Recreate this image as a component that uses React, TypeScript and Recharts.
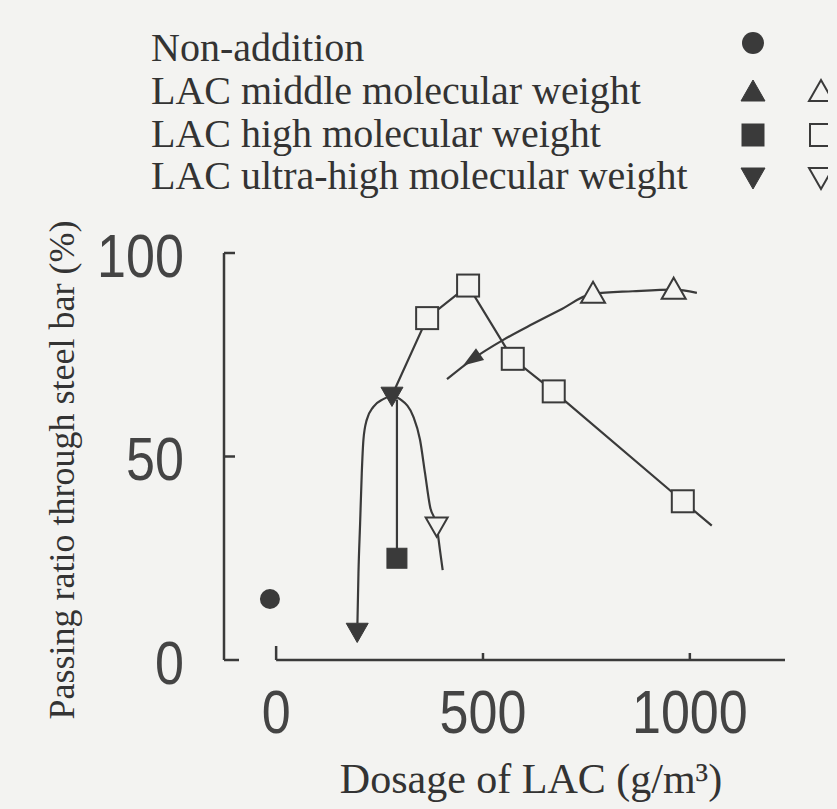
import React from 'react';
import { ComposedChart, Line, Scatter, XAxis, YAxis, ReferenceLine, Label } from 'recharts';

// measured points, x = dosage of LAC (g/m3), y = passing ratio (%)
const nonAddition = [{ x: -15, y: 15 }];
const middleFilled = [{ x: 476, y: 74 }];
const middleOpen = [
  { x: 766, y: 90 },
  { x: 961, y: 91 },
];
const highFilled = [{ x: 292, y: 25 }];
const highOpen = [
  { x: 365, y: 84 },
  { x: 464, y: 92 },
  { x: 572, y: 74 },
  { x: 671, y: 66 },
  { x: 983, y: 39 },
];
const ultraFilled = [{ x: 280, y: 65 }];
const ultraArrow = [{ x: 196, y: 7 }];
const ultraOpen = [{ x: 388, y: 33 }];

// hand drawn trend curves
const middleCurve = [
  { x: 413, y: 69 },
  { x: 476, y: 74 },
  { x: 548, y: 78.6 },
  { x: 621, y: 82.6 },
  { x: 686, y: 86 },
  { x: 766, y: 90 },
  { x: 862, y: 90.6 },
  { x: 961, y: 91 },
  { x: 1017, y: 90.2 },
];
const highCurve = [
  { x: 280, y: 65 },
  { x: 365, y: 84 },
  { x: 464, y: 92 },
  { x: 572, y: 74 },
  { x: 671, y: 66 },
  { x: 983, y: 39 },
  { x: 1053, y: 33 },
];
const ultraLeftArc = [
  { x: 280, y: 65 },
  { x: 259, y: 64.1 },
  { x: 235, y: 62.2 },
  { x: 219, y: 59 },
  { x: 211, y: 54.1 },
  { x: 207, y: 45.9 },
  { x: 203, y: 33.6 },
  { x: 199, y: 21.3 },
  { x: 196.5, y: 9 },
];
const ultraStem = [
  { x: 292, y: 64 },
  { x: 292, y: 27 },
];
const ultraRightArc = [
  { x: 280, y: 65 },
  { x: 299.5, y: 64.1 },
  { x: 331.6, y: 59.8 },
  { x: 347.8, y: 54.1 },
  { x: 359.9, y: 45.9 },
  { x: 372, y: 37.7 },
  { x: 388, y: 33 },
  { x: 396, y: 27 },
  { x: 402.6, y: 22.1 },
];

const xTicks = [0, 500, 1000];
const yTicks = [0, 50, 100];

const legendRows = [
  { label: 'Non-addition', filled: 'circle', open: '' },
  { label: 'LAC middle molecular weight', filled: 'up', open: 'upOpen' },
  { label: 'LAC high molecular weight', filled: 'square', open: 'squareOpen' },
  { label: 'LAC ultra-high molecular weight', filled: 'down', open: 'downOpen' },
];

const INK = '#3a3a3a';
const TEXT = '#333';
const BG = '#f3f3f1';
const SERIF = '"Liberation Serif", "Times New Roman", serif';
const SANS = '"Liberation Sans", Arial, sans-serif';

const W = 820;
const H = 800;

// direction of the arrow-like filled triangle on the middle curve (screen degrees)
const ARROW_ANGLE = 146;

function Marker({ cx, cy, kind, s = 12 }: { cx: number; cy: number; kind: string; s?: number }) {
  const open = kind.endsWith('Open');
  const fill = open ? BG : INK;
  const sw = open ? 2 : 1;
  const base = kind.replace('Open', '');
  if (base === 'circle') return <circle cx={cx} cy={cy} r={s - 1} fill={INK} />;
  if (base === 'square')
    return (
      <rect x={cx - s + 1} y={cy - s + 1} width={2 * s - 2} height={2 * s - 2} fill={fill} stroke={INK} strokeWidth={sw} />
    );
  if (base === 'up')
    return (
      <polygon
        points={`${cx},${cy - s} ${cx + s},${cy + s * 0.75} ${cx - s},${cy + s * 0.75}`}
        fill={fill}
        stroke={INK}
        strokeWidth={sw}
      />
    );
  if (base === 'down')
    return (
      <polygon
        points={`${cx - s},${cy - s * 0.75} ${cx + s},${cy - s * 0.75} ${cx},${cy + s}`}
        fill={fill}
        stroke={INK}
        strokeWidth={sw}
      />
    );
  if (base === 'arrow') {
    return (
      <polygon
        points={`${s},0 ${-s * 0.7},${-s * 0.6} ${-s * 0.7},${s * 0.6}`}
        transform={`translate(${cx},${cy}) rotate(${ARROW_ANGLE})`}
        fill={INK}
      />
    );
  }
  return <g />;
}

const shapeOf = (kind: string, s?: number) => (p: any) => <Marker cx={p.cx} cy={p.cy} kind={kind} s={s} />;

const YTick = (props: any) => {
  const { x, y, payload } = props;
  const len = payload.value === 0 ? 15 : 11;
  return (
    <g>
      <line x1={x} x2={x + len} y1={y} y2={y} stroke={INK} strokeWidth={2.5} />
      <text
        transform={`translate(${x - 40},${y + 2}) scale(0.84,1)`}
        textAnchor="end"
        dominantBaseline="central"
        fontFamily={SANS}
        fontSize={62}
        fill="#444"
      >
        {payload.value}
      </text>
    </g>
  );
};

const XTick = (props: any) => {
  const { x, y, payload } = props;
  const len = payload.value === 0 ? 14 : 7;
  return (
    <g>
      <line x1={x} x2={x} y1={y} y2={y - len} stroke={INK} strokeWidth={2.5} />
      <text
        transform={`translate(${x},${y + 51}) scale(0.84,1)`}
        textAnchor="middle"
        dominantBaseline="central"
        fontFamily={SANS}
        fontSize={62}
        fill="#444"
      >
        {payload.value}
      </text>
    </g>
  );
};

const LegendBlock = () => (
  <svg width={W} height={200} style={{ position: 'absolute', left: 0, top: 0, pointerEvents: 'none' }}>
    {legendRows.map((r, i) => {
      const base = [53, 96, 139, 181][i];
      const my = [35, 84, 127, 169][i];
      return (
        <g key={r.label}>
          <text x={143} y={base} fontFamily={SERIF} fontSize={40} fill={TEXT}>
            {r.label}
          </text>
          <Marker cx={745} cy={my} kind={r.filled} />
          {r.open && <Marker cx={813} cy={my} kind={r.open} />}
        </g>
      );
    })}
  </svg>
);

export default function App() {
  const curve = { stroke: INK, strokeWidth: 2.2, dot: false, isAnimationActive: false, dataKey: 'y' } as const;
  return (
    <div style={{ position: 'absolute', left: 0, top: 0, width: 837, height: 809, background: BG, padding: 8, boxSizing: 'border-box' }}>
      <div style={{ position: 'relative', width: W, height: H }}>
        <ComposedChart width={W} height={H} margin={{ top: 245, right: 43, bottom: 88, left: 116 }}>
          <XAxis
            type="number"
            dataKey="x"
            domain={[-126, 1230]}
            ticks={xTicks}
            allowDataOverflow
            axisLine={false}
            tickLine={false}
            tickSize={0}
            tickMargin={0}
            height={60}
            tick={<XTick />}
          >
            <Label
              content={() => (
                <text x={523} y={785} textAnchor="middle" fontFamily={SERIF} fontSize={42} fill={TEXT}>
                  Dosage of LAC (g/m³)
                </text>
              )}
            />
          </XAxis>
          <YAxis
            type="number"
            dataKey="y"
            domain={[0, 100]}
            ticks={yTicks}
            width={100}
            axisLine={{ stroke: INK, strokeWidth: 2.5 }}
            tickLine={false}
            tickSize={0}
            tickMargin={0}
            tick={<YTick />}
          >
            <Label
              content={() => (
                <text
                  x={54}
                  y={462}
                  transform="rotate(-90,54,462)"
                  textAnchor="middle"
                  dominantBaseline="central"
                  fontFamily={SERIF}
                  fontSize={36}
                  fill={TEXT}
                >
                  Passing ratio through steel bar (%)
                </text>
              )}
            />
          </YAxis>
          <ReferenceLine
            segment={[
              { x: 0, y: 0 },
              { x: 1230, y: 0 },
            ]}
            stroke={INK}
            strokeWidth={2.5}
            ifOverflow="visible"
          />

          <Line {...curve} data={middleCurve} type="monotone" />
          <Line {...curve} data={highCurve} type="linear" />
          <Line {...curve} data={ultraLeftArc} type="monotone" />
          <Line {...curve} data={ultraStem} type="linear" />
          <Line {...curve} data={ultraRightArc} type="monotone" />

          <Scatter data={nonAddition} dataKey="y" shape={shapeOf('circle', 11)} isAnimationActive={false} />
          <Scatter data={middleFilled} dataKey="y" shape={shapeOf('arrow', 12)} isAnimationActive={false} />
          <Scatter data={middleOpen} dataKey="y" shape={shapeOf('upOpen')} isAnimationActive={false} />
          <Scatter data={highFilled} dataKey="y" shape={shapeOf('square', 11)} isAnimationActive={false} />
          <Scatter data={highOpen} dataKey="y" shape={shapeOf('squareOpen')} isAnimationActive={false} />
          <Scatter data={ultraFilled} dataKey="y" shape={shapeOf('down', 11)} isAnimationActive={false} />
          <Scatter data={ultraArrow} dataKey="y" shape={shapeOf('down', 11)} isAnimationActive={false} />
          <Scatter data={ultraOpen} dataKey="y" shape={shapeOf('downOpen', 11)} isAnimationActive={false} />
        </ComposedChart>
        <LegendBlock />
      </div>
    </div>
  );
}
